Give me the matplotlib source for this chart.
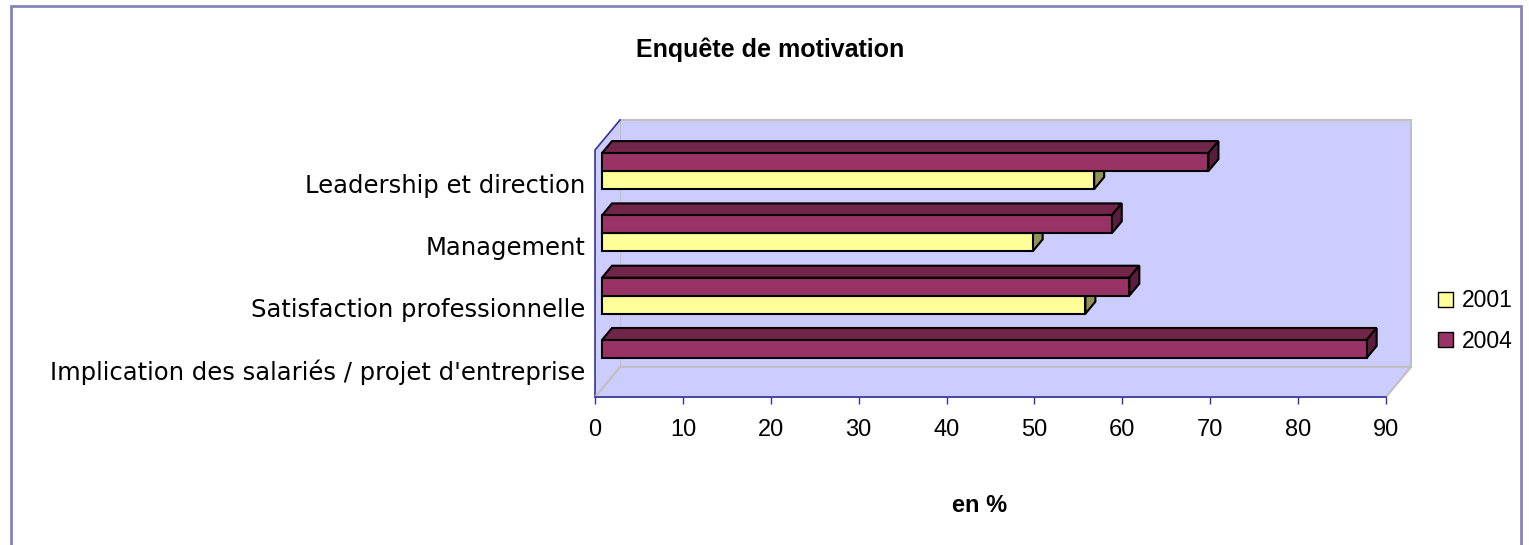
import numpy as np
import matplotlib
matplotlib.use('Agg')
from matplotlib import pyplot as plt
from matplotlib.patches import Polygon, Rectangle, Patch

# data (bottom to top)
categories = ["Implication des salariés / projet d'entreprise",
              'Satisfaction professionnelle',
              'Management',
              'Leadership et direction']
v_2001 = [np.nan, 55, 49, 56]
v_2004 = [87, 60, 58, 69]
x_ticks = list(range(0, 100, 10))

W, H = 1529, 545
fig = plt.figure(figsize=(W / 100, H / 100), dpi=100)

# axes = front plane, 595..1386 px wide, 120..397 px tall
ax = fig.add_axes([595 / W, 1 - 397 / H, 791 / W, 277 / H])
px_x = 791 / 90.0      # px per unit in x
px_y = 62.3            # px per category
y0 = (358 - 397) / px_y
y1 = (358 - 120) / px_y
ax.set_xlim(0, 90)
ax.set_ylim(y0, y1)
ax.patch.set_visible(False)
for s in ax.spines.values():
    s.set_visible(False)

wall = '#CCCCFF'
grey = '#C0C0C0'
navy = '#333399'
dxw, dyw = 25 / px_x, 30 / px_y     # wall depth
ddx, ddy = 10 / px_x, 12 / px_y     # bar depth
shift = 7 / px_x                     # bar front plane offset
h = 18 / px_y                        # bar thickness

# walls and floor
ax.add_patch(Rectangle((dxw, y0 + dyw), 90, y1 - y0 - dyw, fc=wall, ec=grey, lw=1.5, clip_on=False, zorder=0))
ax.add_patch(Polygon([(0, y0), (90, y0), (90 + dxw, y0 + dyw), (dxw, y0 + dyw)],
                     fc=wall, ec=grey, lw=1.5, clip_on=False, zorder=0))
ax.add_patch(Polygon([(0, y0), (0, y1 - dyw), (dxw, y1), (dxw, y0 + dyw)],
                     fc=wall, ec='none', clip_on=False, zorder=0))
ax.plot([0, 0, dxw], [y0, y1 - dyw, y1], color=navy, lw=1.2, clip_on=False, zorder=1)
ax.plot([0, dxw], [y0, y0 + dyw], color=grey, lw=1.5, clip_on=False, zorder=1)
ax.plot([0, 90], [y0, y0], color=navy, lw=1.2, clip_on=False, zorder=1)


def bar3d(y, vals, front, top, side):
    for yi, v in zip(y, vals):
        if np.isnan(v):
            continue
        x0, x1 = shift, shift + v
        ax.add_patch(Polygon([(x0, yi + h), (x1, yi + h), (x1 + ddx, yi + h + ddy), (x0 + ddx, yi + h + ddy)],
                             fc=top, ec='black', lw=1.5, zorder=2))
        ax.add_patch(Polygon([(x1, yi), (x1, yi + h), (x1 + ddx, yi + h + ddy), (x1 + ddx, yi + ddy)],
                             fc=side, ec='black', lw=1.5, zorder=2))
    ax.barh(np.array(y) + h / 2, vals, height=h, left=shift, color=front,
            edgecolor='black', linewidth=1.5, zorder=3)


pos = np.arange(len(categories))
bar3d(pos - h, v_2001, '#FFFF99', '#CCCC7A', '#929258')
bar3d(pos, v_2004, '#993366', '#702549', '#5A1E3C')

# ticks
ax.set_xticks(x_ticks)
ax.tick_params(axis='x', colors=navy, length=5, width=1, pad=11, labelcolor='black')
for t in ax.get_xticklabels():
    t.set_family('Liberation Sans')
    t.set_fontsize(17)
ax.set_yticks(pos - 12 / px_y)
ax.set_yticklabels(categories, fontsize=17.5, family='DejaVu Sans')
ax.tick_params(axis='y', length=0, pad=7)

fig.text(770 / W, 1 - 50 / H, 'Enquête de motivation', ha='center', va='center',
         fontsize=18, fontweight='bold', family='Liberation Sans')
fig.text(980 / W, 1 - 505 / H, 'en %', ha='center', va='center',
         fontsize=17, fontweight='bold', family='Liberation Sans')

handles = [Patch(fc='#FFFF99', ec='black'), Patch(fc='#993366', ec='black')]
fig.legend(handles, ['2001', '2004'], loc='center left', bbox_to_anchor=(1438 / W, 1 - 321 / H),
           frameon=False, borderpad=0, borderaxespad=0, handlelength=0.65, handleheight=0.65,
           handletextpad=0.4, labelspacing=0.75,
           prop={'family': 'Liberation Sans', 'size': 16.5})

# outer border
fig.patches.append(Rectangle((11 / W, -0.1), 1510 / W, 1.1 - 6 / H, transform=fig.transFigure,
                             fill=False, ec='#8585B5', lw=2))

fig.savefig('out.png', dpi=100)
